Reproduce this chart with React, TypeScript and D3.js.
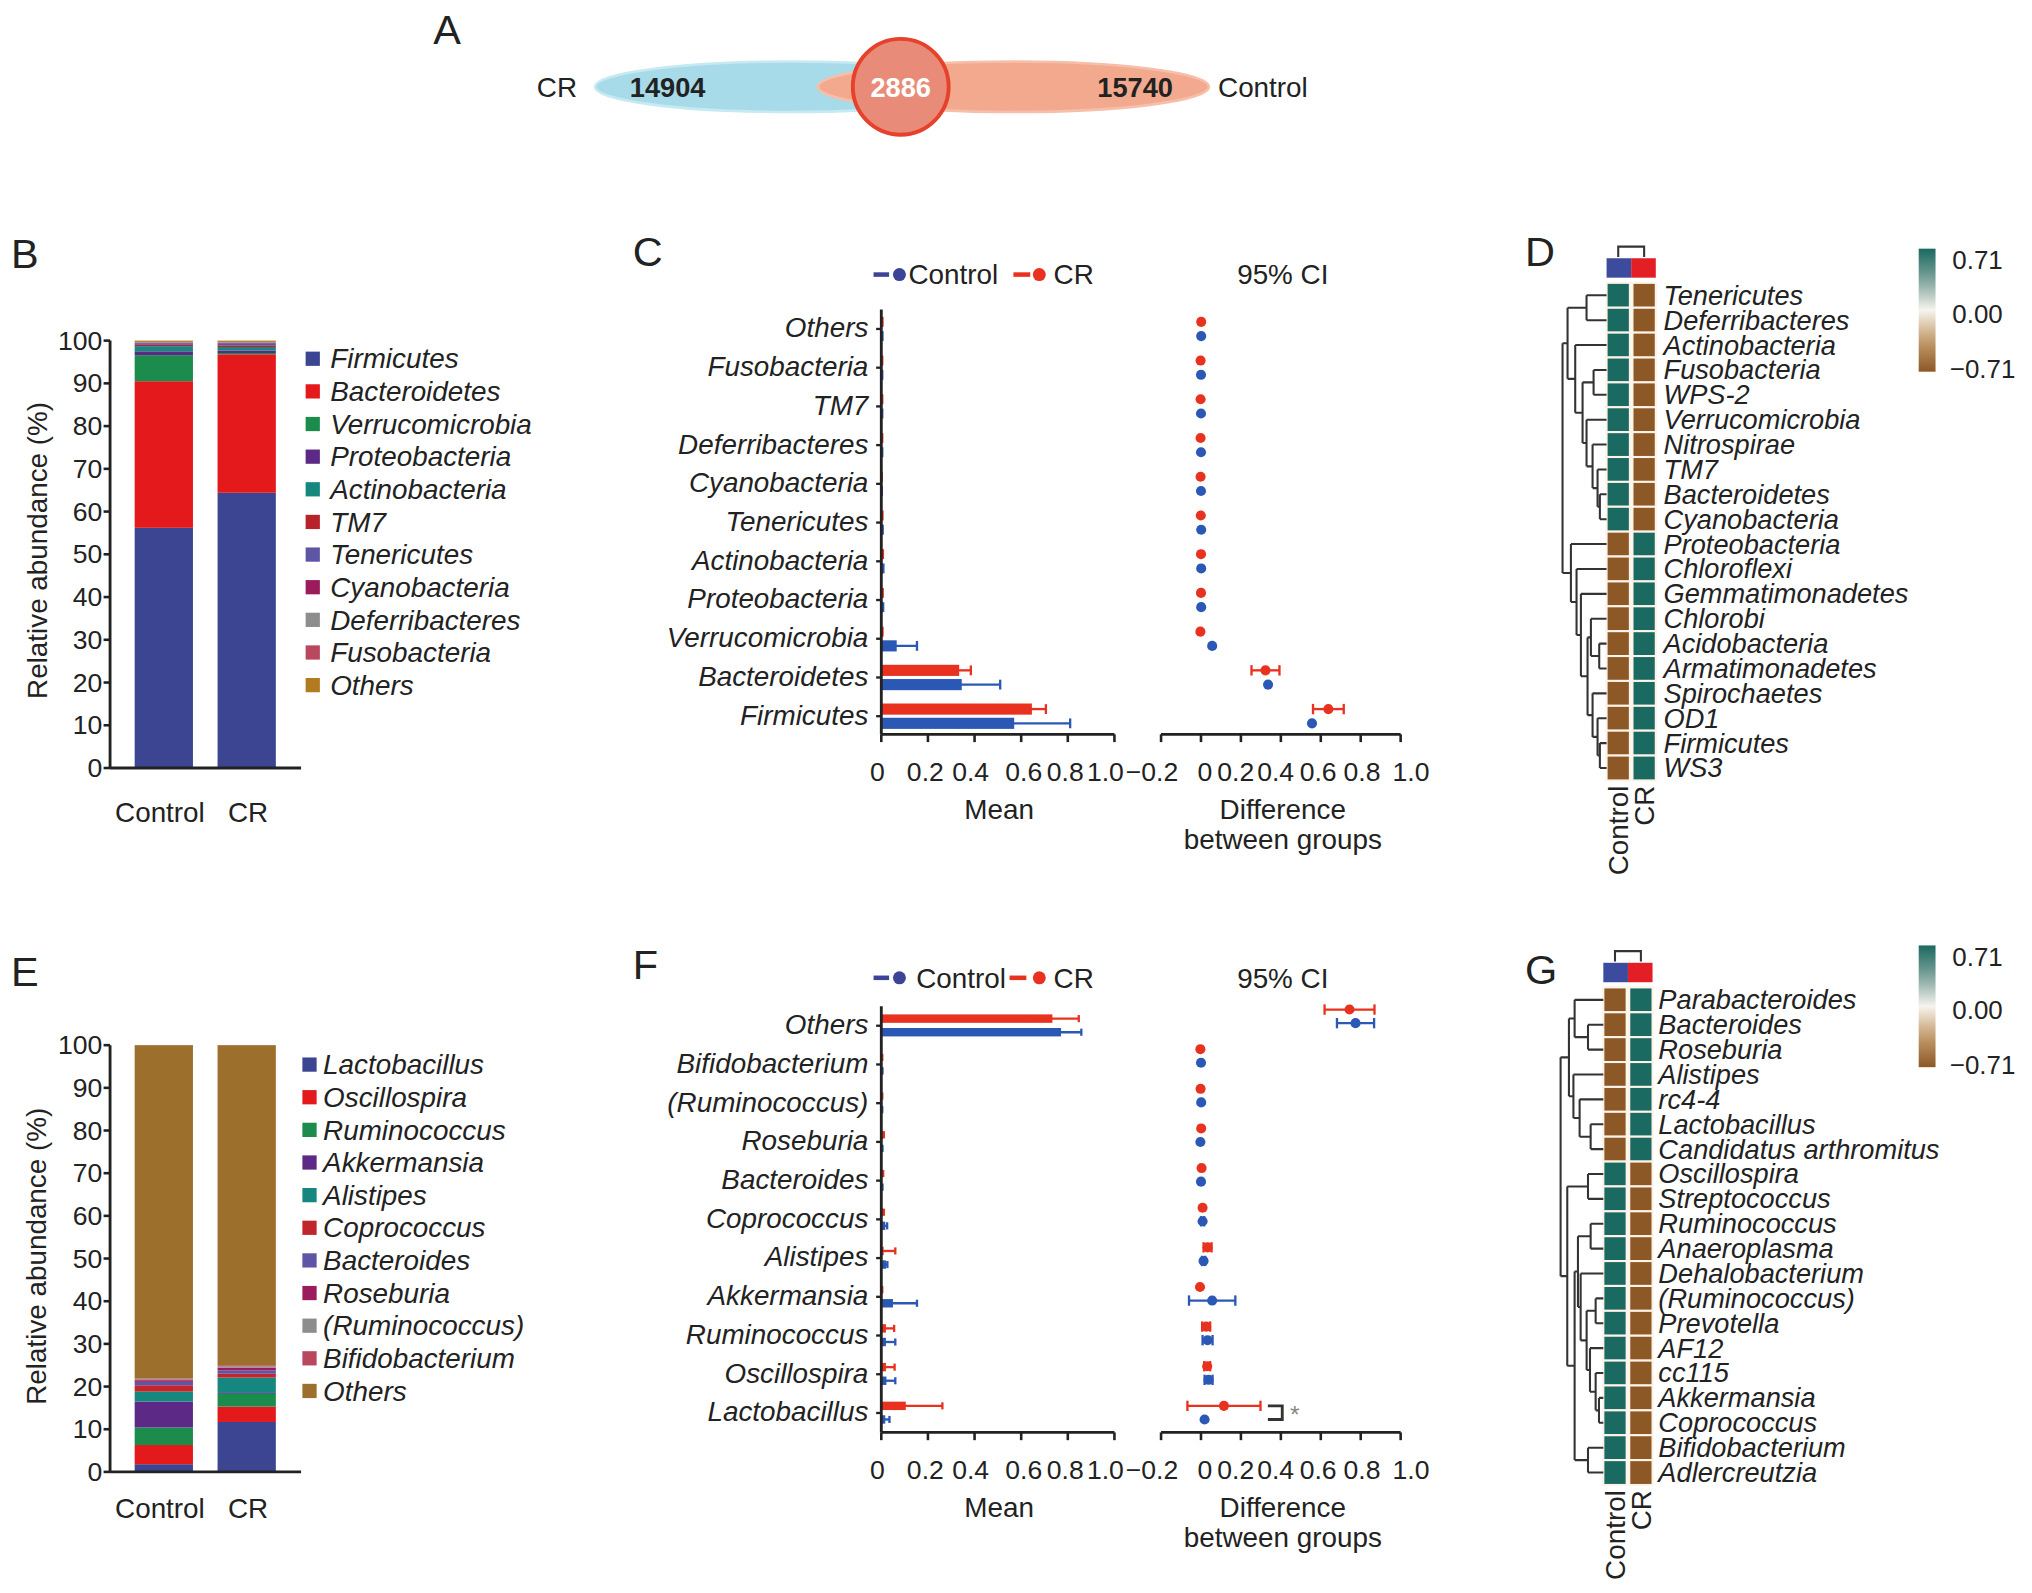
import React from "react";
import * as d3 from "d3";

const FONT = "'Liberation Sans', Arial, Helvetica, sans-serif";
const FS = 21.5;

// ---------- A: Venn ----------
const vennSets = ["CR", "Control"];
const vennCounts = [14904, 2886, 15740];

// ---------- B: phylum composition (%) ----------
const groups = ["Control", "CR"];
const phyla = ["Firmicutes", "Bacteroidetes", "Verrucomicrobia", "Proteobacteria", "Actinobacteria", "TM7", "Tenericutes", "Cyanobacteria", "Deferribacteres", "Fusobacteria", "Others"];
const phylaControl = [56.2, 34.3, 6.1, 0.9, 1.2, 0.3, 0.4, 0.1, 0.1, 0.1, 0.3];
const phylaCR = [64.4, 32.4, 0.3, 0.6, 0.8, 0.4, 0.5, 0.1, 0.1, 0.1, 0.3];
const phylaColors = ["#3b4592", "#e3191c", "#1b8c4c", "#5c2a86", "#16877f", "#b8222a", "#5f55a5", "#9b1c5c", "#8d8d8d", "#b9475e", "#b27b22"];

// ---------- E: genus composition (%) ----------
const genera = ["Lactobacillus", "Oscillospira", "Ruminococcus", "Akkermansia", "Alistipes", "Coprococcus", "Bacteroides", "Roseburia", "(Ruminococcus)", "Bifidobacterium", "Others"];
const generaControl = [1.8, 4.5, 4.1, 6.1, 2.3, 1.5, 0.8, 0.4, 0.2, 0.2, 78.1];
const generaCR = [11.7, 3.6, 3.0, 0.2, 3.6, 0.9, 0.8, 0.6, 0.3, 0.3, 75.0];
const generaColors = ["#3b4592", "#e3191c", "#1b8c4c", "#5c2a86", "#16877f", "#c0262c", "#5f55a5", "#9b1c5c", "#8d8d8d", "#b9475e", "#9d6f2c"];

// ---------- C: phylum means / differences ----------
const catsC = ["Others", "Fusobacteria", "TM7", "Deferribacteres", "Cyanobacteria", "Tenericutes", "Actinobacteria", "Proteobacteria", "Verrucomicrobia", "Bacteroidetes", "Firmicutes"];
const meanCtrlC = [0.003, 0.002, 0.002, 0.002, 0.001, 0.004, 0.006, 0.005, 0.066, 0.345, 0.57];
const errCtrlC = [0.002, 0.002, 0.002, 0.002, 0.001, 0.002, 0.003, 0.003, 0.087, 0.165, 0.24];
const meanCrC = [0.003, 0.002, 0.002, 0.002, 0.001, 0.003, 0.005, 0.004, 0.003, 0.334, 0.646];
const errCrC = [0.002, 0.002, 0.002, 0.002, 0.001, 0.002, 0.002, 0.002, 0.002, 0.05, 0.06];
const diffCtrlC = [0.001, 0, 0, 0, 0, 0.001, 0.001, 0.001, 0.056, 0.336, 0.556];
const ciCtrlC = [0, 0, 0, 0, 0, 0, 0, 0, 0, 0, 0];
const diffCrC = [0.001, -0.002, -0.002, -0.002, -0.002, -0.001, 0, 0, -0.003, 0.323, 0.638];
const ciCrC = [0, 0, 0, 0, 0, 0, 0, 0, 0, 0.07, 0.077];

// ---------- F: genus means / differences ----------
const catsF = ["Others", "Bifidobacterium", "(Ruminococcus)", "Roseburia", "Bacteroides", "Coprococcus", "Alistipes", "Akkermansia", "Ruminococcus", "Oscillospira", "Lactobacillus"];
const meanCtrlF = [0.771, 0.003, 0.002, 0.003, 0.003, 0.017, 0.02, 0.05, 0.02, 0.022, 0.017];
const errCtrlF = [0.087, 0.002, 0.002, 0.002, 0.002, 0.008, 0.006, 0.103, 0.04, 0.038, 0.018];
const meanCrF = [0.734, 0.002, 0.002, 0.008, 0.005, 0.007, 0.01, 0.002, 0.02, 0.02, 0.105];
const errCrF = [0.113, 0.002, 0.002, 0.003, 0.003, 0.004, 0.05, 0.002, 0.035, 0.037, 0.157];
const diffCtrlF = [0.774, 0, 0.001, -0.003, 0, 0.008, 0.013, 0.056, 0.033, 0.038, 0.018];
const ciCtrlF = [0.093, 0, 0, 0, 0, 0.008, 0.008, 0.116, 0.025, 0.02, 0];
const diffCrF = [0.744, -0.003, -0.002, 0.001, 0.003, 0.008, 0.033, -0.005, 0.026, 0.031, 0.115];
const ciCrF = [0.125, 0, 0, 0, 0, 0, 0.02, 0, 0.02, 0.015, 0.183];

// tick values of the two x axes in C / F
const meanTicks = [0, 0.2, 0.4, 0.6, 0.8, 1.0];
const diffTicks = [-0.2, 0, 0.2, 0.4, 0.6, 0.8, 1.0];
// the original tick labels sit a little off their ticks (crowded axis)
const meanLabelNudge = [-3, -2, -3, 2, -2, -7];
const diffLabelNudge = [-7, 3, -4, -4, -2, 1, 8];

// ---------- D / G: heatmaps ----------
type TreeNode = { name?: string; h: number; children?: TreeNode[] };
const leaf = (name: string): TreeNode => ({ name, h: 0 });
const node = (h: number, ...children: TreeNode[]): TreeNode => ({ h, children });

const rowsD = ["Tenericutes", "Deferribacteres", "Actinobacteria", "Fusobacteria", "WPS-2", "Verrucomicrobia", "Nitrospirae", "TM7", "Bacteroidetes", "Cyanobacteria", "Proteobacteria", "Chloroflexi", "Gemmatimonadetes", "Chlorobi", "Acidobacteria", "Armatimonadetes", "Spirochaetes", "OD1", "Firmicutes", "WS3"];
const zCtrlD = [0.71, 0.71, 0.71, 0.71, 0.71, 0.71, 0.71, 0.71, 0.71, 0.71, -0.71, -0.71, -0.71, -0.71, -0.71, -0.71, -0.71, -0.71, -0.71, -0.71];
const zCrD = [-0.71, -0.71, -0.71, -0.71, -0.71, -0.71, -0.71, -0.71, -0.71, -0.71, 0.71, 0.71, 0.71, 0.71, 0.71, 0.71, 0.71, 0.71, 0.71, 0.71];
const treeD = node(1,
  node(0.886,
    node(0.455, leaf("Tenericutes"), leaf("Deferribacteres")),
    node(0.712, leaf("Actinobacteria"),
      node(0.545,
        node(0.295, leaf("Fusobacteria"), leaf("WPS-2")),
        node(0.455, leaf("Verrucomicrobia"),
          node(0.318, leaf("Nitrospirae"),
            node(0.205, leaf("TM7"), node(0.152, leaf("Bacteroidetes"), leaf("Cyanobacteria")))))))),
  node(0.81, leaf("Proteobacteria"),
    node(0.682, leaf("Chloroflexi"),
      node(0.583, leaf("Gemmatimonadetes"),
        node(0.432,
          node(0.356, leaf("Chlorobi"), node(0.167, leaf("Acidobacteria"), leaf("Armatimonadetes"))),
          node(0.318, leaf("Spirochaetes"), node(0.205, leaf("OD1"), node(0.152, leaf("Firmicutes"), leaf("WS3")))))))));

const rowsG = ["Parabacteroides", "Bacteroides", "Roseburia", "Alistipes", "rc4-4", "Lactobacillus", "Candidatus arthromitus", "Oscillospira", "Streptococcus", "Ruminococcus", "Anaeroplasma", "Dehalobacterium", "(Ruminococcus)", "Prevotella", "AF12", "cc115", "Akkermansia", "Coprococcus", "Bifidobacterium", "Adlercreutzia"];
const zCtrlG = [-0.71, -0.71, -0.71, -0.71, -0.71, -0.71, -0.71, 0.71, 0.71, 0.71, 0.71, 0.71, 0.71, 0.71, 0.71, 0.71, 0.71, 0.71, 0.71, 0.71];
const zCrG = [0.71, 0.71, 0.71, 0.71, 0.71, 0.71, 0.71, -0.71, -0.71, -0.71, -0.71, -0.71, -0.71, -0.71, -0.71, -0.71, -0.71, -0.71, -0.71, -0.71];
const treeG = node(1,
  node(0.805,
    node(0.672, leaf("Parabacteroides"), node(0.359, leaf("Bacteroides"), leaf("Roseburia"))),
    node(0.7, leaf("Alistipes"), node(0.555, leaf("rc4-4"), node(0.297, leaf("Lactobacillus"), leaf("Candidatus arthromitus"))))),
  node(0.844,
    node(0.359, leaf("Oscillospira"), leaf("Streptococcus")),
    node(0.672,
      node(0.594,
        node(0.297, leaf("Ruminococcus"), leaf("Anaeroplasma")),
        node(0.531, leaf("Dehalobacterium"),
          node(0.391,
            node(0.18, leaf("(Ruminococcus)"), leaf("Prevotella")),
            node(0.3125, leaf("AF12"), node(0.18, leaf("cc115"), node(0.102, leaf("Akkermansia"), leaf("Coprococcus"))))))),
      node(0.359, leaf("Bifidobacterium"), leaf("Adlercreutzia")))));

const colorTicks = [0.71, 0, -0.71];

const BLUE = "#2c58b5";
const RED = "#e8321f";
const heatColor = d3.scaleLinear<string>()
  .domain([-0.71, -0.35, 0, 0.35, 0.71])
  .range(["#8c5826", "#c49c6c", "#f6f4ee", "#7ea39b", "#1a6a61"]);

const dash = (s: string) => s.replace("-", "\u2013");
const fmtTick = (v: number) => (v === 0 ? "0" : dash(d3.format(".1f")(v)));
const fmtZ = (v: number) => dash(d3.format(".2f")(v));

function Letter({ x, y, t }: { x: number; y: number; t: string }) {
  return <text x={x} y={y} fontSize={32}>{t}</text>;
}

function VennPanel() {
  const cy = 67;
  return (
    <g>
      <Letter x={334} y={34} t="A" />
      <ellipse cx={610} cy={cy} rx={151} ry={19.5} fill="#a8dbe9" stroke="#c6e9f2" strokeWidth={2} />
      <ellipse cx={782} cy={cy} rx={151} ry={19.5} fill="#f2a98e" stroke="#f5bfaa" strokeWidth={2} />
      <circle cx={695} cy={cy} r={37} fill="#e98b79" stroke="#e5412b" strokeWidth={3} />
      <text x={414} y={cy + 8} fontSize={FS}>{vennSets[0]}</text>
      <text x={940} y={cy + 8} fontSize={FS}>{vennSets[1]}</text>
      <text x={515} y={cy + 8} fontSize={21} fontWeight="bold" textAnchor="middle">{vennCounts[0]}</text>
      <text x={695} y={cy + 8} fontSize={21} fontWeight="bold" fill="#fff" textAnchor="middle">{vennCounts[1]}</text>
      <text x={876} y={cy + 8} fontSize={21} fontWeight="bold" textAnchor="middle">{vennCounts[2]}</text>
    </g>
  );
}

function StackedPanel(props: {
  top: number; bottom: number; keys: string[]; colors: string[]; values: number[][]; letter: string;
  legendTop: number; sqX: number; txtX: number; letterY: number; titleY: number; titleX: number; labelY: number;
}) {
  const { top, bottom, keys, colors, values, legendTop, sqX, txtX, letterY, titleY, titleX, labelY } = props;
  const y = d3.scaleLinear().domain([0, 100]).range([bottom, top]);
  const x = d3.scalePoint<string>().domain(groups).range([126, 190]);
  const rows = groups.map((g, gi) => {
    const o: Record<string, any> = { group: g };
    keys.forEach((k, i) => (o[k] = values[gi][i]));
    return o;
  });
  const series = d3.stack<Record<string, any>>().keys(keys)(rows);
  const color = d3.scaleOrdinal<string, string>().domain(keys).range(colors);
  const ly = d3.scalePoint<string>().domain(keys).range([legendTop, legendTop + 252]);
  const barW = 45;
  const axX = 84.5;
  return (
    <g>
      <Letter x={8} y={letterY} t={props.letter} />
      {series.map((s) => (
        <g key={s.key} fill={color(s.key)}>
          {s.map((d, i) => (
            <rect key={i} x={x(groups[i])! - barW / 2} y={y(d[1])} width={barW} height={Math.max(0, y(d[0]) - y(d[1]))} />
          ))}
        </g>
      ))}
      <line x1={axX} x2={axX} y1={y(100)} y2={y(0)} stroke="#222" strokeWidth={2.2} />
      <line x1={axX} x2={232} y1={y(0)} y2={y(0)} stroke="#222" strokeWidth={2.2} />
      {y.ticks(10).map((t) => (
        <g key={t}>
          <line x1={axX - 5} x2={axX} y1={y(t)} y2={y(t)} stroke="#222" strokeWidth={2} />
          <text x={axX - 6} y={y(t) + 7} fontSize={20.5} textAnchor="end">{t}</text>
        </g>
      ))}
      <text transform={`translate(${titleX},${titleY}) rotate(-90)`} fontSize={FS} textAnchor="middle">Relative abundance (%)</text>
      {groups.map((g) => (
        <text key={g} x={x(g)! + (g === "Control" ? -3 : 1)} y={labelY} fontSize={FS} textAnchor="middle">{g}</text>
      ))}
      {keys.map((k) => (
        <g key={k}>
          <rect x={sqX} y={ly(k)! - 5.5} width={11} height={11} fill={color(k)} />
          <text x={txtX} y={ly(k)! + 7.5} fontSize={FS} fontStyle="italic">{k}</text>
        </g>
      ))}
    </g>
  );
}

function ErrBar({ x1, x2, y, color, cap }: { x1: number; x2: number; y: number; color: string; cap: number }) {
  return (
    <g stroke={color} strokeWidth={1.8}>
      <line x1={x1} x2={x2} y1={y} y2={y} />
      <line x1={x1} x2={x1} y1={y - cap / 2} y2={y + cap / 2} />
      <line x1={x2} x2={x2} y1={y - cap / 2} y2={y + cap / 2} />
    </g>
  );
}

function MeanDiffPanel(props: {
  cats: string[]; mc: number[]; ec: number[]; mr: number[]; er: number[];
  dc: number[]; cc: number[]; dr: number[]; cr: number[];
  rowTop: number; rowBottom: number; diffTop: number; axisY: number; axisTop: number;
  legendY: number; letter: string; letterY: number; barH: number; redOff: number; blueOff: number;
  legendTextX: number; redDashX: number; sig?: boolean;
}) {
  const p = props;
  const row = d3.scalePoint<string>().domain(p.cats).range([p.rowTop, p.rowBottom]);
  const rowD = d3.scalePoint<string>().domain(p.cats).range([p.diffTop, p.rowBottom]);
  const xm = d3.scaleLinear().domain([0, 1]).range([680, 860]);
  const xd = d3.scaleLinear().domain([-0.2, 1]).range([896, 1081]);
  const rRed = p.redOff;
  const rBlue = p.blueOff;
  const lastCat = p.cats[p.cats.length - 1];
  const labY = p.axisY + 37.5;
  return (
    <g>
      <Letter x={488} y={p.letterY} t={p.letter} />
      {/* legend */}
      <line x1={674} x2={686} y1={p.legendY} y2={p.legendY} stroke="#3b4496" strokeWidth={3.5} />
      <circle cx={694} cy={p.legendY} r={5} fill="#3b4496" />
      <text x={p.legendTextX} y={p.legendY + 7.5} fontSize={FS}>Control</text>
      <line x1={p.redDashX} x2={p.redDashX + 13} y1={p.legendY} y2={p.legendY} stroke={RED} strokeWidth={3.5} />
      <circle cx={802} cy={p.legendY} r={5} fill={RED} />
      <text x={813} y={p.legendY + 7.5} fontSize={FS}>CR</text>
      <text x={990} y={p.legendY + 7.5} fontSize={FS} textAnchor="middle">95% CI</text>

      {/* mean panel */}
      {p.cats.map((c, i) => {
        const yc = row(c)!;
        return (
          <g key={c}>
            <ErrBar x1={xm(Math.max(0, p.mr[i] - p.er[i]))} x2={xm(p.mr[i] + p.er[i])} y={yc + rRed} color={RED} cap={p.barH - 1} />
            <ErrBar x1={xm(Math.max(0, p.mc[i] - p.ec[i]))} x2={xm(p.mc[i] + p.ec[i])} y={yc + rBlue} color={BLUE} cap={p.barH - 1} />
            <rect x={xm(0)} y={yc + rRed - p.barH / 2} width={xm(p.mr[i]) - xm(0)} height={p.barH} fill={RED} />
            <rect x={xm(0)} y={yc + rBlue - p.barH / 2} width={xm(p.mc[i]) - xm(0)} height={p.barH} fill={BLUE} />
            <line x1={676} x2={680} y1={yc + 1} y2={yc + 1} stroke="#222" strokeWidth={1.8} />
            <text x={670} y={yc + 7.5} fontSize={FS} fontStyle="italic" textAnchor="end">{c}</text>
          </g>
        );
      })}
      <line x1={680} x2={680} y1={p.axisTop} y2={p.axisY} stroke="#222" strokeWidth={2.2} />
      <line x1={680} x2={860} y1={p.axisY} y2={p.axisY} stroke="#222" strokeWidth={2.2} />
      {meanTicks.map((t, i) => (
        <g key={t}>
          <line x1={xm(t)} x2={xm(t)} y1={p.axisY} y2={p.axisY + 6} stroke="#222" strokeWidth={2} />
          <text x={xm(t) + meanLabelNudge[i]} y={p.axisY + 36} fontSize={20.5} textAnchor="middle">{fmtTick(t)}</text>
        </g>
      ))}
      <text x={771} y={labY + 28} fontSize={FS} textAnchor="middle">Mean</text>

      {/* difference panel */}
      {p.cats.map((c, i) => {
        const yc = rowD(c)!;
        return (
          <g key={c}>
            {p.cr[i] > 0 && <ErrBar x1={xd(p.dr[i] - p.cr[i])} x2={xd(p.dr[i] + p.cr[i])} y={yc + rRed} color={RED} cap={8} />}
            {p.cc[i] > 0 && <ErrBar x1={xd(p.dc[i] - p.cc[i])} x2={xd(p.dc[i] + p.cc[i])} y={yc + rBlue} color={BLUE} cap={8} />}
            <circle cx={xd(p.dr[i])} cy={yc + rRed} r={3.9} fill={RED} />
            <circle cx={xd(p.dc[i])} cy={yc + rBlue} r={3.9} fill={BLUE} />
          </g>
        );
      })}
      {p.sig && (
        <g>
          <path
            d={`M${xd(0.335)},${rowD(lastCat)! + rRed}H${xd(0.407)}V${rowD(lastCat)! + rBlue}H${xd(0.335)}`}
            fill="none" stroke="#333" strokeWidth={2.2}
          />
          <text x={xd(0.407) + 6} y={rowD(lastCat)! + 9} fontSize={19} fill="#888">*</text>
        </g>
      )}
      <line x1={896} x2={1081} y1={p.axisY} y2={p.axisY} stroke="#222" strokeWidth={2.2} />
      {diffTicks.map((t, i) => (
        <g key={t}>
          <line x1={xd(t)} x2={xd(t)} y1={p.axisY} y2={p.axisY + 6} stroke="#222" strokeWidth={2} />
          <text x={xd(t) + diffLabelNudge[i]} y={p.axisY + 36} fontSize={20.5} textAnchor="middle">{fmtTick(t)}</text>
        </g>
      ))}
      <text x={990} y={labY + 28} fontSize={FS} textAnchor="middle">Difference</text>
      <text x={990} y={labY + 51} fontSize={FS} textAnchor="middle">between groups</text>
    </g>
  );
}

function HeatPanel(props: {
  rows: string[]; zc: number[]; zr: number[]; tree: TreeNode; top: number; bottom: number;
  colX0: number; rootX: number; labelX: number; cbTop: number; cbBottom: number; letter: string; letterY: number; id: string;
}) {
  const p = props;
  const band = d3.scaleBand<string>().domain(p.rows).range([p.top, p.bottom]);
  const col = d3.scaleBand<string>().domain(groups).range([p.colX0, p.colX0 + 38]).paddingInner(0.1);
  const hx = d3.scaleLinear().domain([0, 1]).range([p.colX0, p.rootX]);
  const root = d3.hierarchy<TreeNode>(p.tree, (d) => d.children);
  const yOf = new Map<any, number>();
  root.eachAfter((n) => {
    if (!n.children) yOf.set(n, band(n.data.name!)! + band.bandwidth() / 2);
    else yOf.set(n, (yOf.get(n.children[0])! + yOf.get(n.children[n.children.length - 1])!) / 2);
  });
  const segs: string[] = [];
  root.each((n) => {
    if (!n.children) return;
    const xn = hx(n.data.h);
    segs.push(`M${xn},${yOf.get(n.children[0])}V${yOf.get(n.children[n.children.length - 1])}`);
    n.children.forEach((c) => segs.push(`M${xn},${yOf.get(c)}H${hx(c.data.h)}`));
  });
  const cb = d3.scaleLinear().domain([0.71, -0.71]).range([p.cbTop, p.cbBottom]);
  const barTop = p.top - 19;
  const cCtrl = col("Control")! + col.bandwidth() / 2;
  const cCr = col("CR")! + col.bandwidth() / 2;
  return (
    <g>
      <Letter x={1177} y={p.letterY} t={p.letter} />
      <defs>
        <linearGradient id={p.id} x1="0" y1="0" x2="0" y2="1">
          {d3.range(0, 1.001, 0.1).map((t) => (
            <stop key={t} offset={t} stopColor={heatColor(0.71 - 1.42 * t)} />
          ))}
        </linearGradient>
      </defs>
      <path d={`M${cCtrl},${barTop - 1}V${barTop - 9}H${cCr}V${barTop - 1}`} fill="none" stroke="#333" strokeWidth={1.6} />
      <rect x={col("Control")} y={barTop} width={col.bandwidth() + 1} height={15} fill="#3d4b9e" />
      <rect x={col("CR")! - 1} y={barTop} width={col.bandwidth() + 1} height={15} fill="#e31e24" />
      {p.rows.map((r, i) => (
        <g key={r}>
          <rect x={col("Control")} y={band(r)} width={col.bandwidth()} height={band.bandwidth()} fill={heatColor(p.zc[i])} stroke="#fdf3e8" strokeWidth={1.6} />
          <rect x={col("CR")} y={band(r)} width={col.bandwidth()} height={band.bandwidth()} fill={heatColor(p.zr[i])} stroke="#fdf3e8" strokeWidth={1.6} />
          <text x={p.labelX} y={band(r)! + band.bandwidth() / 2 + 7.3} fontSize={21} fontStyle="italic">{r}</text>
        </g>
      ))}
      <path d={segs.join("")} fill="none" stroke="#333" strokeWidth={1.6} />
      {groups.map((g) => (
        <text key={g} transform={`translate(${col(g)! + col.bandwidth() / 2 + 7.7},${p.bottom + 4}) rotate(-90)`} fontSize={FS} textAnchor="end">{g}</text>
      ))}
      <rect x={1481} y={p.cbTop} width={13} height={p.cbBottom - p.cbTop} fill={`url(#${p.id})`} />
      {colorTicks.map((t) => (
        <text key={t} x={t < 0 ? 1505 : 1507} y={cb(t) + (t > 0 ? 9 : t < 0 ? -2 : 3) + 7} fontSize={20}>{fmtZ(t)}</text>
      ))}
    </g>
  );
}

export default function App() {
  return (
    <svg
      width={2032}
      height={1593}
      viewBox="0 0 1568 1230"
      style={{ position: "absolute", left: 0, top: 0, display: "block" }}
      fontFamily={FONT}
      fill="#222"
    >
      <rect width={1568} height={1230} fill="#fff" />
      <VennPanel />
      <StackedPanel top={263} bottom={593} keys={phyla} colors={phylaColors} values={[phylaControl, phylaCR]} letter="B"
        legendTop={277} sqX={235.5} txtX={254.5} letterY={207} titleY={425} titleX={36} labelY={635} />
      <StackedPanel top={807} bottom={1136.5} keys={genera} colors={generaColors} values={[generaControl, generaCR]} letter="E"
        legendTop={822} sqX={233} txtX={249} letterY={761} titleY={970} titleX={35} labelY={1172} />
      <MeanDiffPanel cats={catsC} mc={meanCtrlC} ec={errCtrlC} mr={meanCrC} er={errCrC}
        dc={diffCtrlC} cc={ciCtrlC} dr={diffCrC} cr={ciCrC}
        rowTop={253} rowBottom={552} diffTop={253} axisY={567} axisTop={239}
        legendY={212} letter="C" letterY={205} barH={8.6} redOff={-4.5} blueOff={6.5}
        legendTextX={701} redDashX={782} />
      <MeanDiffPanel cats={catsF} mc={meanCtrlF} ec={errCtrlF} mr={meanCrF} er={errCrF}
        dc={diffCtrlF} cc={ciCtrlF} dr={diffCrF} cr={ciCrF}
        rowTop={791} rowBottom={1090} diffTop={784} axisY={1106} axisTop={777}
        legendY={755} letter="F" letterY={756} barH={6.5} redOff={-4.5} blueOff={6}
        legendTextX={707} redDashX={779} sig />
      <HeatPanel rows={rowsD} zc={zCtrlD} zr={zCrD} tree={treeD} top={218.4} bottom={602.6}
        colX0={1240} rootX={1206} labelX={1284} cbTop={192} cbBottom={287} letter="D" letterY={205} id="cbD" />
      <HeatPanel rows={rowsG} zc={zCtrlG} zr={zCrG} tree={treeG} top={762.4} bottom={1146.6}
        colX0={1237.5} rootX={1204.5} labelX={1280} cbTop={730} cbBottom={824} letter="G" letterY={760} id="cbG" />
    </svg>
  );
}
